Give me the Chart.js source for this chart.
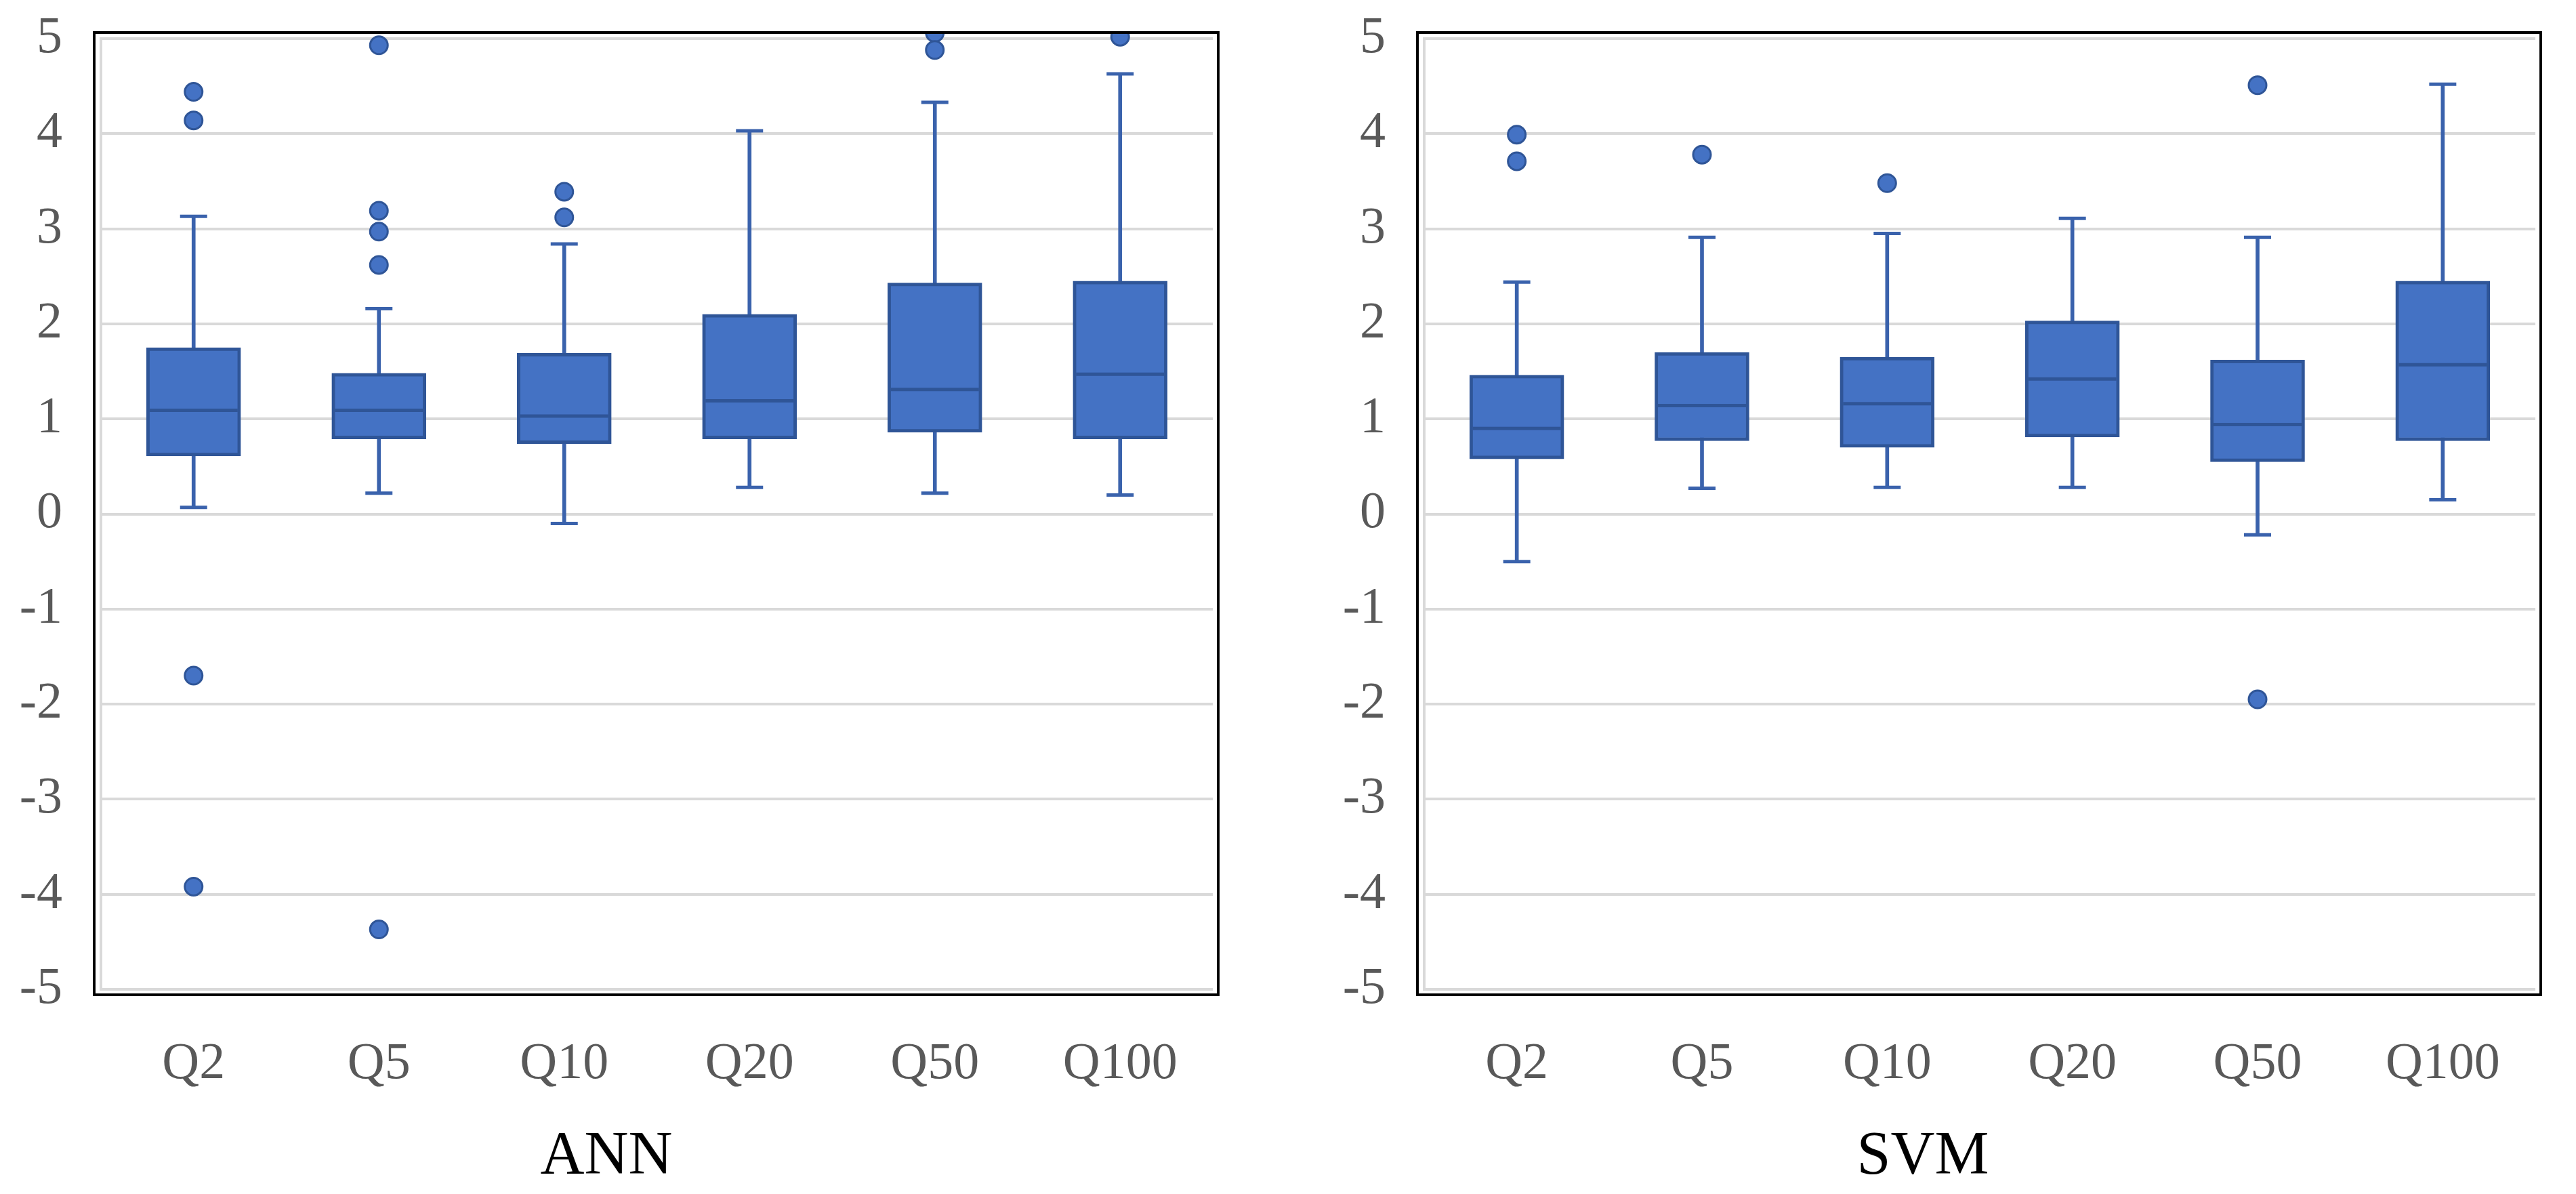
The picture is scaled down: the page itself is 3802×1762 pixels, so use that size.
<!DOCTYPE html>
<html>
<head>
<meta charset="utf-8">
<script src="https://cdn.jsdelivr.net/npm/chart.js@4.4.1/dist/chart.umd.min.js"></script>
<style>
    html, body { margin: 0; padding: 0; background: #ffffff; }
    body { width: 3802px; height: 1762px; position: relative; overflow: hidden; }
    canvas { position: absolute; top: 0; }
    #annChart { left: 0px; width: 1828px; height: 1762px; }
    #svmChart { left: 1934px; width: 1868px; height: 1762px; }
</style>
</head>
<body>
<canvas id="annChart" width="1828" height="1762"></canvas>
<canvas id="svmChart" width="1868" height="1762"></canvas>

<script>
const categories = ['Q2', 'Q5', 'Q10', 'Q20', 'Q50', 'Q100'];
const yTicks = [-5, -4, -3, -2, -1, 0, 1, 2, 3, 4, 5];

// ANN
const annMin = [0.07, 0.22, -0.10, 0.28, 0.22, 0.20];
const annQ1 = [0.61, 0.79, 0.74, 0.79, 0.86, 0.79];
const annMedian = [1.09, 1.09, 1.03, 1.19, 1.31, 1.47];
const annQ3 = [1.75, 1.48, 1.69, 2.10, 2.43, 2.45];
const annMax = [3.13, 2.16, 2.84, 4.03, 4.33, 4.63];
const annOutliers = [[4.44, 4.14, -1.70, -3.92], [4.93, 3.19, 2.97, 2.62, -4.37], [3.39, 3.12], [], [5.06, 4.88], [5.02]];

// SVM
const svmMin = [-0.50, 0.27, 0.28, 0.28, -0.22, 0.15];
const svmQ1 = [0.58, 0.77, 0.70, 0.81, 0.55, 0.77];
const svmMedian = [0.90, 1.14, 1.16, 1.42, 0.94, 1.57];
const svmQ3 = [1.46, 1.70, 1.65, 2.03, 1.62, 2.45];
const svmMax = [2.44, 2.91, 2.95, 3.11, 2.91, 4.52];
const svmOutliers = [[3.99, 3.71], [3.78], [3.48], [], [4.51, -1.95], []];

const BOX_FILL = '#4472C4';
const BOX_LINE = '#2F5597';
const WHISKER = '#3A62AC';
const TICK_GRAY = '#595959';
const FONT = "'Liberation Serif', 'Times New Roman', serif";

// marco negro alrededor del area del grafico
const framePlugin = {
    id: 'frame',
    afterDraw(chart) {
        const a = chart.chartArea;
        const ctx = chart.ctx;
        ctx.save();
        ctx.strokeStyle = '#000000';
        ctx.lineWidth = 4;
        ctx.strokeRect(a.left - 10, a.top - 9, (a.right - a.left) + 18, (a.bottom - a.top) + 17);
        ctx.restore();
    }
};

function buildBoxChart(canvasId, title, lo, q1, med, q3, hi, outliers, axisWidth, padRight) {
    const boxes = categories.map((c, i) => [q1[i], q3[i]]);
    const whiskers = categories.map((c, i) => [lo[i], hi[i]]);
    const caps = [];
    categories.forEach((c, i) => {
        caps.push({ x: c, y: lo[i] });
        caps.push({ x: c, y: hi[i] });
    });
    const medians = categories.map((c, i) => ({ x: c, y: med[i] }));
    const points = [];
    outliers.forEach((list, i) => list.forEach(v => points.push({ x: categories[i], y: v })));

    const clipArea = { left: 10, top: 9, right: 8, bottom: 8 };

    return new Chart(document.getElementById(canvasId), {
        type: 'bar',
        data: {
            labels: categories,
            datasets: [
                {
                    label: 'whisker',
                    data: whiskers,
                    backgroundColor: WHISKER,
                    barThickness: 5,
                    grouped: false,
                    order: 3
                },
                {
                    label: 'box',
                    data: boxes,
                    backgroundColor: BOX_FILL,
                    borderColor: BOX_LINE,
                    borderWidth: 5,
                    borderSkipped: false,
                    barThickness: 139,
                    grouped: false,
                    order: 2
                },
                {
                    type: 'line',
                    label: 'caps',
                    data: caps,
                    showLine: false,
                    pointStyle: 'line',
                    pointRadius: 20,
                    pointBorderWidth: 5,
                    pointBorderColor: WHISKER,
                    order: 1
                },
                {
                    type: 'line',
                    label: 'median',
                    data: medians,
                    showLine: false,
                    pointStyle: 'line',
                    pointRadius: 65,
                    pointBorderWidth: 5,
                    pointBorderColor: BOX_LINE,
                    order: 0
                },
                {
                    type: 'line',
                    label: 'outliers',
                    data: points,
                    showLine: false,
                    pointStyle: 'circle',
                    pointRadius: 13,
                    pointBorderWidth: 3,
                    pointBackgroundColor: BOX_FILL,
                    pointBorderColor: BOX_LINE,
                    clip: clipArea,
                    order: 0
                }
            ]
        },
        options: {
            responsive: false,
            animation: false,
            events: [],
            devicePixelRatio: 1,
            layout: {
                autoPadding: false,
                padding: { left: 0, top: 57, right: padRight, bottom: 0 }
            },
            plugins: {
                legend: { display: false },
                tooltip: { enabled: false },
                title: {
                    display: true,
                    text: title,
                    position: 'bottom',
                    color: '#000000',
                    font: { family: FONT, size: 90, weight: 'normal' },
                    padding: { top: 0, bottom: 0 }
                }
            },
            scales: {
                x: {
                    grid: { display: false },
                    border: { display: false },
                    ticks: {
                        color: TICK_GRAY,
                        font: { family: FONT, size: 76 },
                        padding: 57,
                        maxRotation: 0,
                        autoSkip: false
                    },
                    afterFit: s => {
                        s.height = 194;
                        s.paddingLeft = 0;
                        s.paddingRight = 0;
                    }
                },
                y: {
                    min: yTicks[0],
                    max: yTicks[yTicks.length - 1],
                    afterBuildTicks: s => { s.ticks = yTicks.map(v => ({ value: v })); },
                    grid: { color: '#D9D9D9', lineWidth: 4, drawTicks: false },
                    border: { display: true, color: '#D9D9D9', width: 4 },
                    ticks: {
                        color: TICK_GRAY,
                        font: { family: FONT, size: 76 },
                        padding: 57
                    },
                    afterFit: s => {
                        s.width = axisWidth;
                        s.paddingTop = 0;
                        s.paddingBottom = 0;
                    }
                }
            }
        },
        plugins: [framePlugin]
    });
}

buildBoxChart('annChart', 'ANN', annMin, annQ1, annMedian, annQ3, annMax, annOutliers, 149, 38);
buildBoxChart('svmChart', 'SVM', svmMin, svmQ1, svmMedian, svmQ3, svmMax, svmOutliers, 168, 60);
</script>
</body>
</html>
